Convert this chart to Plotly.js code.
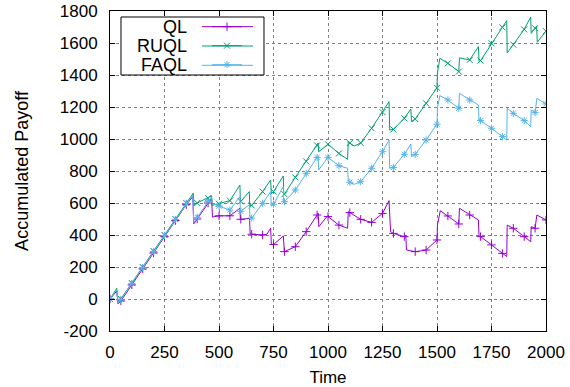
<!DOCTYPE html>
<html><head><meta charset="utf-8">
<script src="https://cdn.plot.ly/plotly-3.0.1.min.js"></script>
<style>html,body{margin:0;padding:0;background:#fff}#chart{width:570px;height:387px}</style>
</head><body><div id="chart"></div>
<script>
const seriesNames = ['QL', 'RUQL', 'FAQL'];
const seriesColors = ['#9400d3', '#009e73', '#56b4e9'];
const seriesSymbols = ['cross-thin', 'x-thin', 'asterisk-open'];

const qlTime = [0,31,37,50,100,150,200,250,300,350,380,384,400,450,466,470,500,550,596,598,600,640,643,650,700,720,737,740,750,795,797,800,850,900,950,955,958,997,1000,1050,1090,1093,1100,1150,1200,1250,1280,1283,1287,1300,1350,1357,1360,1400,1450,1500,1502,1515,1550,1600,1603,1650,1690,1693,1700,1750,1800,1820,1822,1850,1900,1930,1932,1950,1958,2000];
const qlPayoff = [0,50,-30,-12,88,188,288,390,490,590,640,470,500,600,630,512,520,520,567,498,498,504,410,405,400,405,442,344,340,394,296,296,327,421,525,536,452,519,515,462,442,546,540,498,479,535,615,525,421,410,390,396,306,296,306,369,462,552,519,469,567,525,494,390,390,338,285,265,462,442,390,358,452,442,525,494];

const ruqlTime = [0,31,37,50,100,150,200,250,300,350,382,385,400,450,466,468,500,550,596,598,600,639,641,650,700,737,740,750,795,797,800,850,900,950,955,957,1000,1050,1090,1093,1100,1120,1150,1200,1250,1280,1283,1300,1350,1380,1383,1400,1450,1500,1502,1513,1550,1600,1603,1650,1690,1693,1700,1750,1800,1820,1822,1850,1900,1930,1932,1950,1957,1960,2000];
const ruqlPayoff = [0,67,-25,0,100,200,300,400,500,600,662,590,600,630,645,585,595,615,712,608,610,671,583,585,671,744,660,671,769,650,655,760,860,960,975,920,967,910,873,987,975,956,975,1067,1168,1233,1056,1060,1129,1188,1110,1125,1223,1320,1415,1504,1473,1421,1507,1494,1577,1483,1490,1598,1698,1740,1538,1590,1685,1763,1660,1692,1706,1605,1674];

const faqlTime = [0,31,37,50,100,150,200,250,300,350,380,384,400,450,466,468,500,550,596,598,600,640,642,650,700,737,740,750,795,797,800,850,900,950,955,957,1000,1050,1090,1093,1100,1120,1150,1200,1250,1280,1283,1300,1350,1380,1383,1400,1450,1500,1502,1513,1550,1600,1603,1650,1690,1693,1700,1750,1800,1820,1822,1850,1900,1930,1932,1950,1958,2000];
const faqlPayoff = [0,60,-27,-3,97,197,297,397,497,597,650,478,510,610,640,600,580,556,640,546,548,590,508,506,598,670,585,592,702,602,608,681,785,885,890,806,885,833,817,740,730,717,733,817,921,994,817,822,904,969,890,904,994,1092,1192,1271,1244,1192,1285,1244,1213,1115,1115,1067,1015,994,1192,1160,1115,1077,1181,1165,1254,1219];

const xTicks = [0,250,500,750,1000,1250,1500,1750,2000];
const yTicks = [-200,0,200,400,600,800,1000,1200,1400,1600,1800];
const markerEvery = 50;

const allTimes = [qlTime, ruqlTime, faqlTime];
const allPayoffs = [qlPayoff, ruqlPayoff, faqlPayoff];

const traces = [];
for (let i = 0; i < 3; i++) {
  const t = allTimes[i], v = allPayoffs[i];
  traces.push({
    x: t, y: v, type: 'scatter', mode: 'lines', showlegend: false, hoverinfo: 'skip',
    line: {color: seriesColors[i], width: 1}
  });
  const mx = [], my = [];
  t.forEach((tt, k) => { if (tt % markerEvery === 0) { mx.push(tt); my.push(v[k]); } });
  traces.push({
    x: mx, y: my, type: 'scatter', mode: 'markers', showlegend: false, hoverinfo: 'skip',
    marker: {symbol: seriesSymbols[i], size: 6, color: seriesColors[i], line: {color: seriesColors[i], width: 1}}
  });
}
for (let i = 0; i < 3; i++) {
  traces.push({
    x: [null], y: [null], type: 'scatter', mode: 'lines+markers', name: ' ', showlegend: true,
    line: {color: seriesColors[i], width: 1},
    marker: {symbol: seriesSymbols[i], size: 6, color: seriesColors[i], line: {color: seriesColors[i], width: 1}}
  });
}

const font = {family: 'Liberation Sans, Arial, sans-serif', size: 17, color: '#000'};
const rowY = [0.951, 0.8906, 0.8303];
const shapes = [{type: 'rect', xref: 'paper', yref: 'paper', x0: 0.0252, x1: 0.3532, y0: 0.80, y1: 0.98125,
  line: {color: '#000', width: 1}, fillcolor: '#fff', layer: 'above'}];
const annotations = [];
for (let i = 0; i < 3; i++) {
  shapes.push({type: 'line', xref: 'paper', yref: 'paper', x0: 0.211, x1: 0.328, y0: rowY[i], y1: rowY[i],
    line: {color: seriesColors[i], width: 1}, layer: 'above'});
  annotations.push({xref: 'paper', yref: 'paper', x: 0.1812, y: rowY[i], xanchor: 'right', yanchor: 'middle',
    text: seriesNames[i], showarrow: false, font: {family: font.family, size: 18, color: '#000'}});
}

const axisCommon = {
  showline: true, mirror: 'ticks', linecolor: '#000', linewidth: 1,
  ticks: 'inside', ticklen: 5, tickcolor: '#000', tickwidth: 1,
  showgrid: true, gridcolor: '#808080', griddash: 'dot', gridwidth: 1,
  zeroline: false, tickfont: font
};

const layout = {
  width: 570, height: 387,
  margin: {l: 110, r: 24, t: 11, b: 56, pad: 0},
  paper_bgcolor: '#fff', plot_bgcolor: '#fff',
  font: font,
  xaxis: Object.assign({}, axisCommon, {range: [0, 2000], tickvals: xTicks, ticktext: xTicks.map(String),
    ticklabelstandoff: 6, title: {text: 'Time', font: font, standoff: 9}}),
  yaxis: Object.assign({}, axisCommon, {range: [-200, 1800], tickvals: yTicks, ticktext: yTicks.map(String),
    ticklabelstandoff: 8, title: {text: 'Accumulated Payoff', font: {family: font.family, size: 18, color: '#000'}, standoff: 26}}),
  legend: {x: 0.2225, y: 0.9963, xanchor: 'left', yanchor: 'top', bgcolor: 'rgba(0,0,0,0)', borderwidth: 0,
    font: {family: font.family, size: 12}},
  shapes: shapes,
  annotations: annotations
};

Plotly.newPlot('chart', traces, layout, {staticPlot: true, displayModeBar: false});
</script></body></html>
